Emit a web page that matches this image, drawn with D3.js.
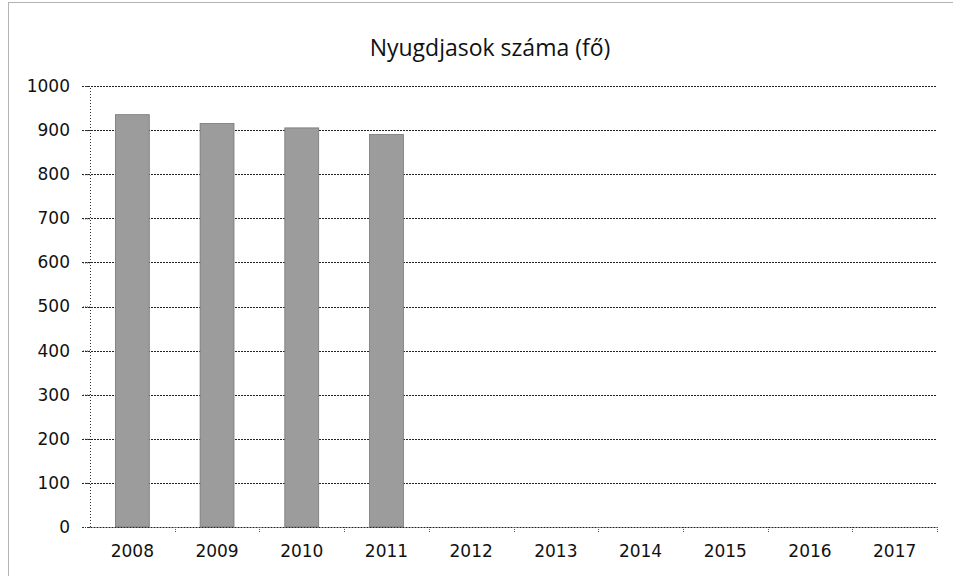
<!DOCTYPE html>
<html>
<head>
<meta charset="utf-8">
<script src="https://cdn.jsdelivr.net/npm/d3@7"></script>
<style>
  body { margin: 0; background: #fff; }
  text { font-family: "DejaVu Sans", "Open Sans", sans-serif; fill: #111; }
</style>
</head>
<body>
<div id="chart"></div>
<script>
// data
let years = ["2008", "2009", "2010", "2011", "2012", "2013", "2014", "2015", "2016", "2017"];
let values = [935, 915, 905, 890, null, null, null, null, null, null];
let yTicks = [0, 100, 200, 300, 400, 500, 600, 700, 800, 900, 1000];

let width = 953;
let height = 576;

let margin = { top: 86, right: 16, bottom: 49, left: 90 };
let innerW = width - margin.left - margin.right;
let innerH = height - margin.top - margin.bottom;

let svg = d3.select("#chart").append("svg")
  .attr("width", width)
  .attr("height", height);

// outer dotted frame
svg.append("rect")
  .attr("x", 8.5).attr("y", 2.5)
  .attr("width", width + 10).attr("height", height + 10)
  .attr("fill", "none")
  .attr("stroke", "#666")
  .attr("stroke-dasharray", "1,1");

// title
svg.append("text")
  .attr("x", 490).attr("y", 56)
  .attr("text-anchor", "middle")
  .style("font-family", "'Open Sans', sans-serif")
  .style("font-weight", 500)
  .style("font-size", "23px")
  .text("Nyugdjasok száma (fő)");

let g = svg.append("g")
  .attr("transform", `translate(${margin.left}, ${margin.top})`);

let x = d3.scaleBand().domain(years).range([0, innerW]).paddingInner(0.6).paddingOuter(0.3);
let xCat = d3.scaleBand().domain(years).range([0, innerW]);
let y = d3.scaleLinear().domain([0, 1000]).range([innerH, 0]);

// gridlines
g.selectAll(".grid")
  .data(yTicks.filter(d => d > 0))
  .enter().append("line")
  .attr("x1", -8).attr("x2", innerW)
  .attr("y1", d => Math.round(y(d)) + 0.5)
  .attr("y2", d => Math.round(y(d)) + 0.5)
  .attr("stroke", "#222")
  .attr("stroke-dasharray", "2,1");

// bars
g.selectAll(".bar")
  .data(years.map((d, i) => ({ year: d, value: values[i] })).filter(d => d.value != null))
  .enter().append("rect")
  .attr("x", d => x(d.year))
  .attr("y", d => y(d.value))
  .attr("width", x.bandwidth())
  .attr("height", d => innerH - y(d.value))
  .attr("fill", "#9c9c9c")
  .attr("stroke", "#777")
  .attr("stroke-width", 0.8);

// y axis
let yAxis = g.append("g")
  .call(d3.axisLeft(y).tickValues(yTicks).tickFormat(d3.format("d")).tickSize(8).tickPadding(12));
yAxis.select(".domain").attr("stroke", "#333").attr("stroke-dasharray", "1,2");
yAxis.selectAll(".tick line").attr("stroke", "#333").attr("stroke-dasharray", "1,1");
yAxis.selectAll("text").attr("font-size", 17);

// x axis
let xAxis = g.append("g")
  .attr("transform", `translate(0, ${innerH})`)
  .call(d3.axisBottom(xCat).tickSize(0).tickPadding(18));
xAxis.select(".domain").attr("stroke", "#222").attr("stroke-dasharray", "2,1");
xAxis.selectAll("text").attr("font-size", 17);

// category boundary ticks
g.selectAll(".xtick")
  .data(years.slice(1).concat(["end"]))
  .enter().append("line")
  .attr("x1", (d, i) => Math.round(xCat.step() * (i + 1)) + 0.5)
  .attr("x2", (d, i) => Math.round(xCat.step() * (i + 1)) + 0.5)
  .attr("y1", innerH).attr("y2", innerH + 6)
  .attr("stroke", "#555")
  .attr("stroke-dasharray", "1,1");
</script>
</body>
</html>
